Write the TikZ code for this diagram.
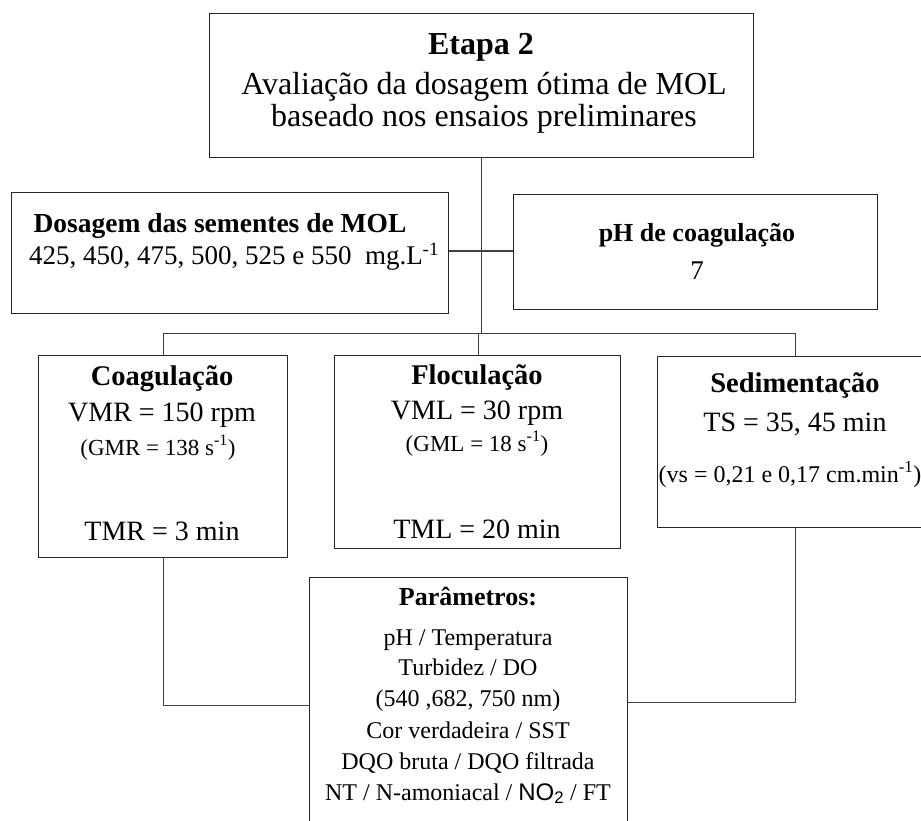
\documentclass[tikz,border=0pt]{standalone}
\usepackage{fontspec}
\setmainfont{Liberation Serif}
\setsansfont{Liberation Sans}
\newcommand{\myfs}[1]{\fontsize{#1}{#1}\selectfont}
\tikzset{
  box/.style={draw=black!85, line width=1.3pt, anchor=north west, inner sep=0pt},
  conn/.style={draw=black!75, line width=1pt},
  txt/.style={anchor=base, inner sep=0pt},
}
\begin{document}
\begin{tikzpicture}[x=1pt,y=-1pt]
\useasboundingbox (0,0) rectangle (921,821);
% boxes
\node[box, minimum width=544pt, minimum height=144pt] (top) at (209,13) {};
\node[box, minimum width=437pt, minimum height=121pt] (dos) at (11,192) {};
\node[box, minimum width=364pt, minimum height=115pt] (ph) at (513,194) {};
\node[box, minimum width=249pt, minimum height=202pt] (coag) at (38,355) {};
\node[box, minimum width=286pt, minimum height=193pt] (floc) at (334,355) {};
\node[box, minimum width=290pt, minimum height=171pt] (sed) at (657,356) {};
\node[box, minimum width=318pt, minimum height=260pt] (par) at (309,577) {};
% connectors
\coordinate (j1) at (481,251);
\coordinate (j2) at (481,333);
\coordinate (bl) at (163,333);
\coordinate (br) at (795,333);
\coordinate (bf) at (478,333);
\draw[conn] (top.south -| j1) -- (j2);
\draw[conn] (dos.east |- j1) -- (j1);
\draw[conn] (j1) -- (ph.west |- j1);
\draw[conn] (bl) -- (br);
\draw[conn] (bl) -- (bl |- coag.north);
\draw[conn] (bf) -- (bf |- floc.north);
\draw[conn] (br) -- (br |- sed.north);
\coordinate (cl) at (163,705);
\coordinate (cr) at (795,702);
\draw[conn] (coag.south -| cl) -- (cl) -- (cl -| par.west);
\draw[conn] (sed.south -| cr) -- (cr) -- (cr -| par.east);
% texts top
\node[txt] (t1) at (481,55) {\myfs{32}\bfseries Etapa 2};
\node[txt] (t2) at (484,95) {\myfs{32}Avaliação da dosagem ótima de MOL};
\node[txt] (t3) at (484,127) {\myfs{32}baseado nos ensaios preliminares};
% dosagem
\node[txt] (d1) at (220,233) {\myfs{27.5}\bfseries Dosagem das sementes de MOL};
\node[txt] (d2) at (234,265) {\myfs{27}425, 450, 475, 500, 525 e 550\ \ mg.L\textsuperscript{-1}};
% ph
\node[txt] (p1) at (697,242) {\myfs{26}\bfseries pH de coagulação};
\node[txt] (p2) at (697,279) {\myfs{27}7};
% coag
\node[txt] (c1) at (162,385) {\myfs{28.5}\bfseries Coagulação};
\node[txt] (c2) at (162,421) {\myfs{28}VMR = 150 rpm};
\node[txt] (c3) at (158,455) {\myfs{23}(GMR = 138 s\textsuperscript{-1})};
\node[txt] (c4) at (162,540) {\myfs{28}TMR = 3 min};
% floc
\node[txt] (f1) at (477,384) {\myfs{28.5}\bfseries Floculação};
\node[txt] (f2) at (477,419) {\myfs{28}VML = 30 rpm};
\node[txt] (f3) at (477,451) {\myfs{23}(GML = 18 s\textsuperscript{-1})};
\node[txt] (f4) at (477,538) {\myfs{28}TML = 20 min};
% sed
\node[txt] (s1) at (795,392) {\myfs{28.5}\bfseries Sedimentação};
\node[txt] (s2) at (795,431) {\myfs{28}TS = 35, 45 min};
\node[txt] (s3) at (790,482) {\myfs{24}(vs = 0,21 e 0,17 cm.min\textsuperscript{-1})};
% parametros
\node[txt] (q0) at (468,605) {\myfs{26}\bfseries Parâmetros:};
\node[txt] (q1) at (468,645) {\myfs{24}pH / Temperatura};
\node[txt] (q2) at (468,675) {\myfs{24}Turbidez / DO};
\node[txt] (q3) at (468,706) {\myfs{24}(540 ,682, 750 nm)};
\node[txt] (q4) at (468,738) {\myfs{24}Cor verdadeira / SST};
\node[txt] (q5) at (468,769) {\myfs{24}DQO bruta / DQO filtrada};
\node[txt] (q6) at (468,800) {\myfs{24}NT / N-amoniacal / {\sffamily NO\textsubscript{2}} / FT};
\end{tikzpicture}
\end{document}
